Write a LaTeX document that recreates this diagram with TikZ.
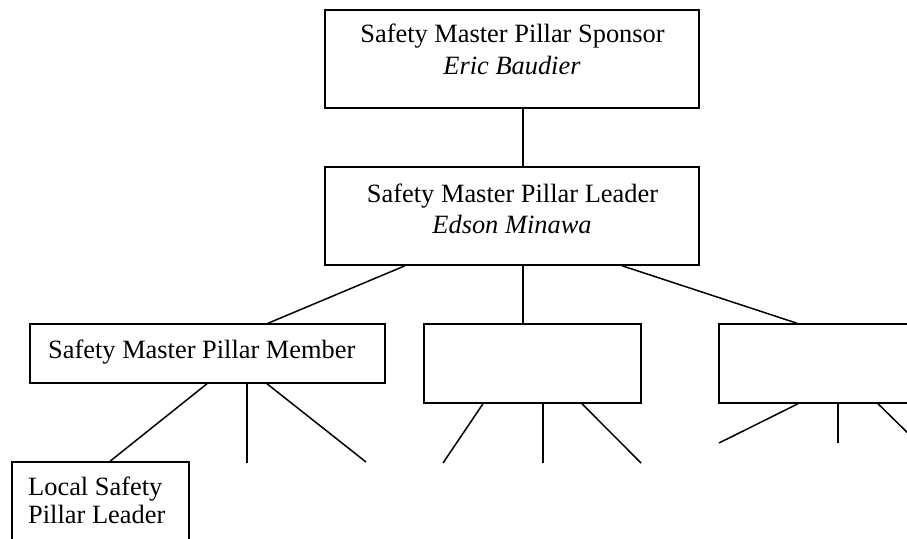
\documentclass[tikz,border=0pt]{standalone}
\usepackage{fontspec}
\setmainfont{Liberation Serif}
\begin{document}
\begin{tikzpicture}[x=1pt,y=-1pt,
  orgbox/.style={draw, line width=1.5pt, inner sep=0pt, fill=white},
  link/.style={line width=1.5pt},
  lbl/.style={inner sep=0pt, font=\fontsize{26.4}{31}\selectfont}]
  \useasboundingbox (0,0) rectangle (907,538);
  \fill[white] (0,0) rectangle (907,538);
  \clip (0,0) rectangle (907,538);

  % boxes
  \node[orgbox, minimum width=374pt, minimum height=98pt] (sponsor) at (512,59) {};
  \node[orgbox, minimum width=374pt, minimum height=98pt] (leader) at (512,216) {};
  \node[orgbox, minimum width=355pt, minimum height=59pt] (member) at (207.5,353.5) {};
  \node[orgbox, minimum width=217pt, minimum height=79pt] (midbox) at (532.5,363.5) {};
  \node[orgbox, minimum width=217pt, minimum height=79pt] (rightbox) at (827.5,363.5) {};
  \node[orgbox, minimum width=177pt, minimum height=100pt] (local) at (100.5,512) {};

  % texts
  \node[lbl, anchor=base] (sponsorT) at (512.5,42) {Safety Master Pillar Sponsor};
  \node[lbl, anchor=base] (sponsorN) at (512,74) {\itshape Eric Baudier};
  \node[lbl, anchor=base] (leaderT) at (512.5,202) {Safety Master Pillar Leader};
  \node[lbl, anchor=base] (leaderN) at (512,233) {\itshape Edson Minawa};
  \node[lbl, anchor=base west] (memberT) at (48,358) {Safety Master Pillar Member};
  \node[lbl, anchor=base west] (localA) at (28,495) {Local Safety};
  \node[lbl, anchor=base west] (localB) at (28,523) {Pillar Leader};

  % free ends of the lower branches
  \coordinate (m1) at (247,463);
  \coordinate (m2) at (366,462);
  \coordinate (c0) at (443,463);
  \coordinate (c1) at (543,463);
  \coordinate (c2) at (641,463);
  \coordinate (r0) at (719,443);
  \coordinate (r1) at (838,443);
  \coordinate (r2) at (918,443);

  % connectors
  \draw[link] ([xshift=11pt]sponsor.south) -- ([xshift=11pt]leader.north);
  \draw[link] ([xshift=-107pt]leader.south) -- ([xshift=60.5pt]member.north);
  \draw[link] ([xshift=11pt]leader.south) -- ([xshift=-9.5pt]midbox.north);
  \draw[link] ([xshift=110pt]leader.south) -- ([xshift=-30.5pt]rightbox.north);

  \draw[link] ([xshift=-0.5pt]member.south) -- ([xshift=9.5pt]local.north);
  \draw[link] ([xshift=39.5pt]member.south) -- (m1);
  \draw[link] ([xshift=59.5pt]member.south) -- (m2);

  \draw[link] ([xshift=-49.5pt]midbox.south) -- (c0);
  \draw[link] ([xshift=10.5pt]midbox.south) -- (c1);
  \draw[link] ([xshift=49.5pt]midbox.south) -- (c2);

  \draw[link] ([xshift=-29.5pt]rightbox.south) -- (r0);
  \draw[link] ([xshift=10.5pt]rightbox.south) -- (r1);
  \draw[link] ([xshift=50.5pt]rightbox.south) -- (r2);
\end{tikzpicture}
\end{document}
